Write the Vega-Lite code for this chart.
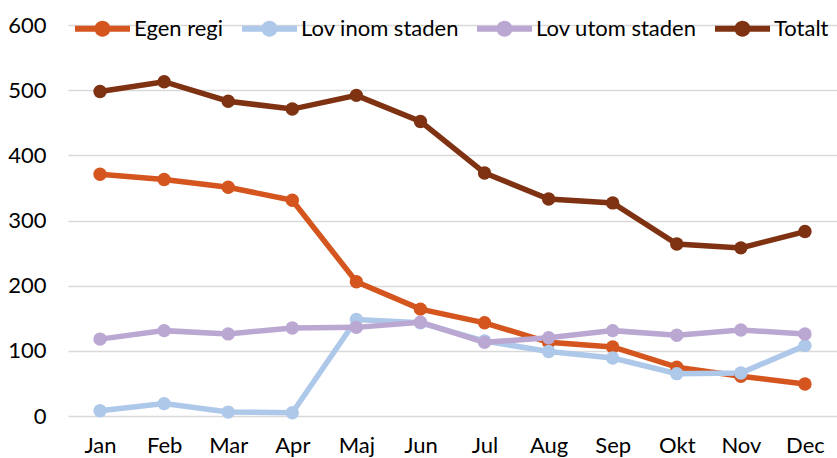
{
  "$schema": "https://vega.github.io/schema/vega-lite/v6.json",
  "width": 769,
  "height": 391,
  "autosize": {"type": "none"},
  "padding": {"left": 68, "top": 25, "right": 0, "bottom": 42},
  "background": "white",
  "config": {
    "view": {"stroke": null},
    "font": "Lato",
    "axis": {"labelFont": "Lato", "labelFontSize": 22, "labelColor": "#000000"},
    "legend": {"labelFont": "Lato", "labelFontSize": 22, "labelColor": "#000000"}
  },
  "data": {
    "values": [
      {"m": "Jan", "s": "Egen regi", "v": 371},
      {"m": "Feb", "s": "Egen regi", "v": 363},
      {"m": "Mar", "s": "Egen regi", "v": 351},
      {"m": "Apr", "s": "Egen regi", "v": 331},
      {"m": "Maj", "s": "Egen regi", "v": 206},
      {"m": "Jun", "s": "Egen regi", "v": 164},
      {"m": "Jul", "s": "Egen regi", "v": 143},
      {"m": "Aug", "s": "Egen regi", "v": 113},
      {"m": "Sep", "s": "Egen regi", "v": 106},
      {"m": "Okt", "s": "Egen regi", "v": 75},
      {"m": "Nov", "s": "Egen regi", "v": 61},
      {"m": "Dec", "s": "Egen regi", "v": 49},
      {"m": "Jan", "s": "Lov inom staden", "v": 8},
      {"m": "Feb", "s": "Lov inom staden", "v": 19},
      {"m": "Mar", "s": "Lov inom staden", "v": 6},
      {"m": "Apr", "s": "Lov inom staden", "v": 5},
      {"m": "Maj", "s": "Lov inom staden", "v": 148},
      {"m": "Jun", "s": "Lov inom staden", "v": 143},
      {"m": "Jul", "s": "Lov inom staden", "v": 115},
      {"m": "Aug", "s": "Lov inom staden", "v": 99},
      {"m": "Sep", "s": "Lov inom staden", "v": 89},
      {"m": "Okt", "s": "Lov inom staden", "v": 65},
      {"m": "Nov", "s": "Lov inom staden", "v": 66},
      {"m": "Dec", "s": "Lov inom staden", "v": 108},
      {"m": "Jan", "s": "Lov utom staden", "v": 118},
      {"m": "Feb", "s": "Lov utom staden", "v": 131},
      {"m": "Mar", "s": "Lov utom staden", "v": 126},
      {"m": "Apr", "s": "Lov utom staden", "v": 135},
      {"m": "Maj", "s": "Lov utom staden", "v": 136},
      {"m": "Jun", "s": "Lov utom staden", "v": 144},
      {"m": "Jul", "s": "Lov utom staden", "v": 113},
      {"m": "Aug", "s": "Lov utom staden", "v": 120},
      {"m": "Sep", "s": "Lov utom staden", "v": 131},
      {"m": "Okt", "s": "Lov utom staden", "v": 124},
      {"m": "Nov", "s": "Lov utom staden", "v": 132},
      {"m": "Dec", "s": "Lov utom staden", "v": 126},
      {"m": "Jan", "s": "Totalt", "v": 498},
      {"m": "Feb", "s": "Totalt", "v": 513},
      {"m": "Mar", "s": "Totalt", "v": 483},
      {"m": "Apr", "s": "Totalt", "v": 471},
      {"m": "Maj", "s": "Totalt", "v": 492},
      {"m": "Jun", "s": "Totalt", "v": 452},
      {"m": "Jul", "s": "Totalt", "v": 373},
      {"m": "Aug", "s": "Totalt", "v": 333},
      {"m": "Sep", "s": "Totalt", "v": 327},
      {"m": "Okt", "s": "Totalt", "v": 264},
      {"m": "Nov", "s": "Totalt", "v": 258},
      {"m": "Dec", "s": "Totalt", "v": 283}
    ]
  },
  "mark": {
    "type": "line",
    "strokeWidth": 5.5,
    "point": {"filled": true, "size": 180, "opacity": 1}
  },
  "encoding": {
    "x": {
      "field": "m",
      "type": "ordinal",
      "sort": null,
      "scale": {"type": "point", "padding": 0.5},
      "axis": {"title": null, "labelAngle": 0, "domain": false, "ticks": false, "labelPadding": 19, "grid": false}
    },
    "y": {
      "field": "v",
      "type": "quantitative",
      "scale": {"domain": [0, 600], "nice": false},
      "axis": {
        "title": null,
        "values": [0, 100, 200, 300, 400, 500, 600],
        "domain": false,
        "ticks": false,
        "labelPadding": 22,
        "gridColor": "#d9d9d9",
        "gridWidth": 1.5
      }
    },
    "color": {
      "field": "s",
      "type": "nominal",
      "sort": null,
      "scale": {
        "domain": ["Egen regi", "Lov inom staden", "Lov utom staden", "Totalt"],
        "range": ["#D4561E", "#AEC8EA", "#BBA8D2", "#7F3212"]
      },
      "legend": {
        "title": null,
        "orient": "none",
        "direction": "horizontal",
        "legendX": 7,
        "legendY": -24,
        "padding": 0,
        "labelLimit": 0,
        "symbolType": "M-1,-0.11H1V0.11H-1Z M0.29,0A0.29,0.29 0 1,1 -0.29,0A0.29,0.29 0 1,1 0.29,0Z",
        "symbolSize": 3025,
        "symbolStrokeWidth": 0,
        "labelOffset": 4,
        "columnPadding": 18,
        "encode": {
          "symbols": {
            "update": {
              "fill": {"scale": "color", "field": "value"},
              "stroke": {"value": "transparent"},
              "opacity": {"value": 1}
            }
          }
        }
      }
    }
  }
}
